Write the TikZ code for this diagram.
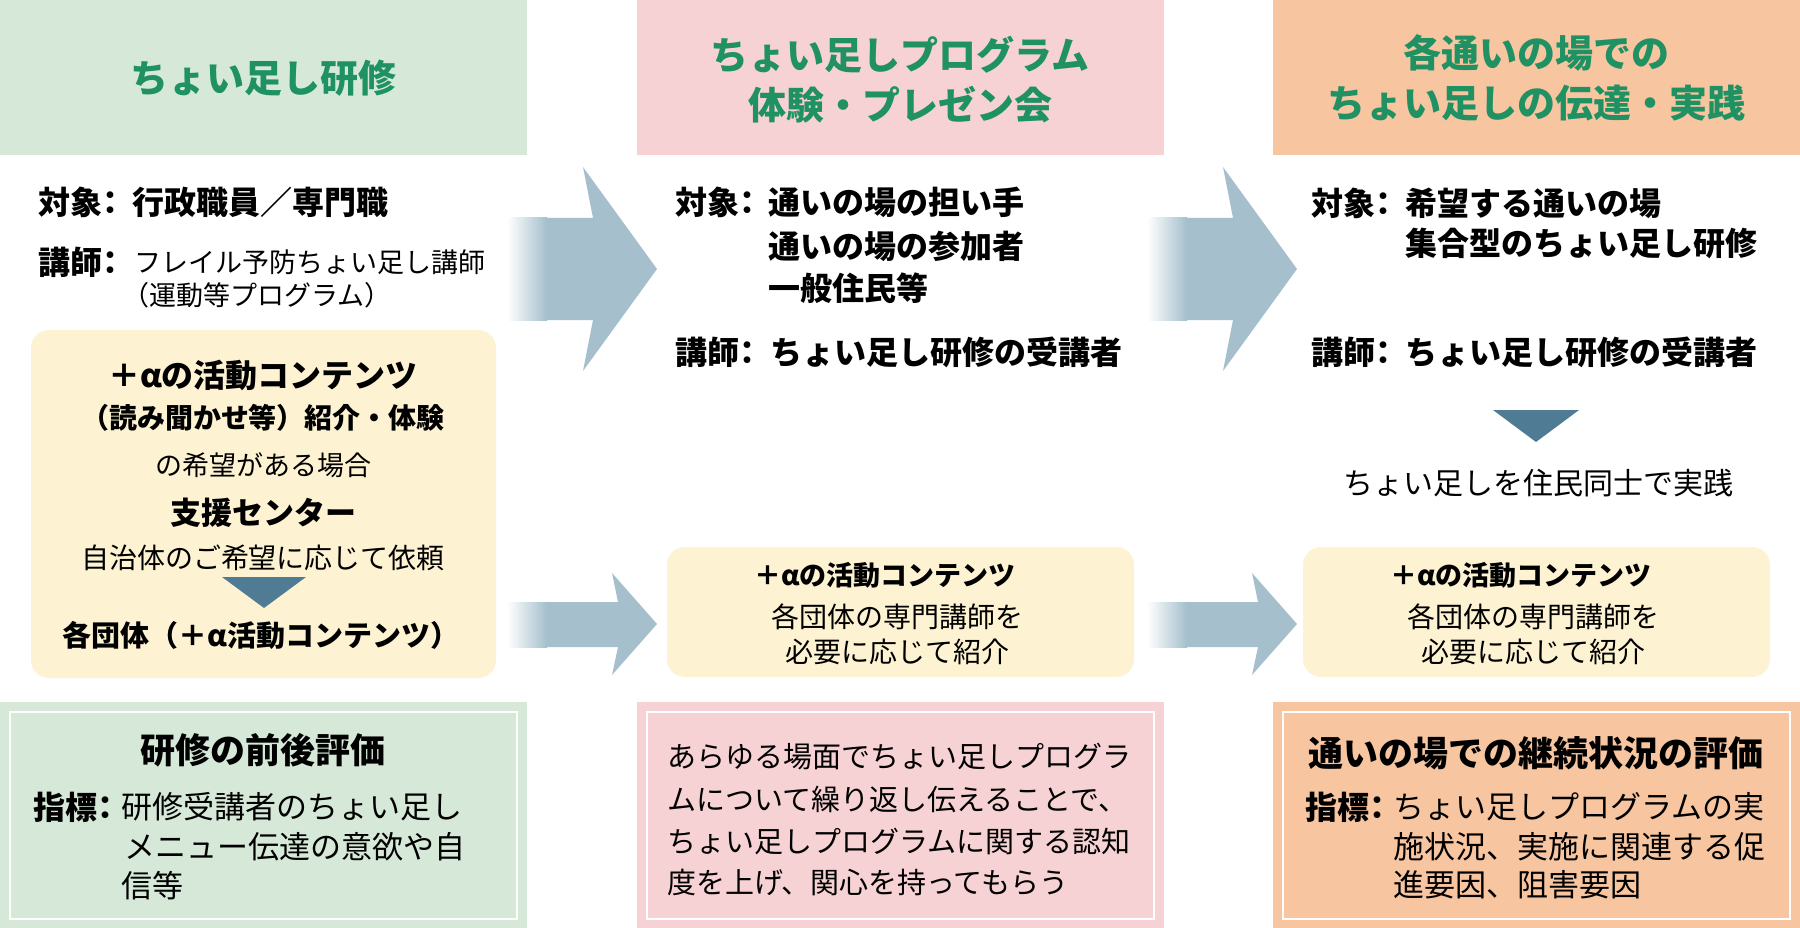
\documentclass[tikz,border=0pt]{standalone}
\usepackage{fontspec}
\setmainfont{Noto Sans CJK JP}
\definecolor{hdgreen}{HTML}{D6E9D9}
\definecolor{hdpink}{HTML}{F7D2D4}
\definecolor{hdorange}{HTML}{F7C5A0}
\definecolor{boxyellow}{HTML}{FDF3D2}
\definecolor{arrowblue}{HTML}{A5BFCC}
\definecolor{tridark}{HTML}{4F7B94}
\definecolor{titlegreen}{HTML}{1F9163}
\newcommand{\hcolon}{{\addfontfeatures{RawFeature=+halt}：}}

\begin{document}
\begin{tikzpicture}[x=1pt, y=-1pt,
  every node/.style={inner sep=0pt},
  ttl/.style={font=\fontsize{38}{50}\selectfont\bfseries, text=titlegreen, align=center},
  lbl/.style={font=\fontsize{32}{40}\selectfont\bfseries, anchor=west},
  sml/.style={font=\fontsize{27}{33}\selectfont, anchor=west},
  yelhead/.style={font=\fontsize{27}{33}\selectfont\bfseries},
  yeltxt/.style={font=\fontsize{28}{33}\selectfont},
  evhead/.style={font=\fontsize{35}{42}\selectfont\bfseries},
  evtxt/.style={font=\fontsize{31}{40}\selectfont, anchor=west},
  frame/.style={draw=white, line width=2pt},
  yel/.style={fill=boxyellow, rounded corners=18pt}]
  \useasboundingbox (0,0) rectangle (1800,928);
  \fill[white] (0,0) rectangle (1800,928);

  % headers and evaluation boxes
  \foreach \x/\c in {0/hdgreen, 637/hdpink, 1273/hdorange} {
    \fill[\c] (\x,0) rectangle (\x+527,155);
    \fill[\c] (\x,702) rectangle (\x+527,928);
    \draw[frame] (\x+10,712) rectangle (\x+517,919);
  }
  \node[ttl] (h1) at (263,78) {ちょい足し研修};
  \node[ttl] (h2) at (900,80) {ちょい足しプログラム\\体験・プレゼン会};
  \node[ttl] (h3) at (1536,78) {各通いの場での\\ちょい足しの伝達・実践};

  % arrows between columns
  \foreach \dx in {0,640} {
    \fill[arrowblue] (507+\dx,218) -- (593+\dx,218) -- (583+\dx,167) -- (657+\dx,269)
      -- (583+\dx,371) -- (593+\dx,320) -- (507+\dx,320) -- cycle;
    \shade[left color=white, right color=arrowblue] (507+\dx,218) rectangle (547+\dx,320);
    \fill[arrowblue] (507+\dx,602) -- (618+\dx,602) -- (612+\dx,573) -- (657+\dx,624)
      -- (612+\dx,675) -- (618+\dx,647) -- (507+\dx,647) -- cycle;
    \shade[left color=white, right color=arrowblue] (507+\dx,602) rectangle (547+\dx,647);
  }

  % column 1
  \node[lbl] (c1obj) at (38,202) {対象\hcolon};
  \node[lbl] (c1objA) at (132,202) {行政職員／専門職};
  \node[lbl] (c1lec) at (38,262) {講師\hcolon};
  \node[sml] (c1lecA) at (134,262) {フレイル予防ちょい足し講師};
  \node[sml] (c1lecB) at (122,295) {（運動等プログラム）};

  \fill[yel] (31,330) rectangle (496,678);
  \node[font=\fontsize{32}{40}\selectfont\bfseries] (y1a) at (263,375) {＋αの活動コンテンツ};
  \node[font=\fontsize{28}{33}\selectfont\bfseries] (y1b) at (263,418) {（読み聞かせ等）紹介・体験};
  \node[font=\fontsize{27}{33}\selectfont] (y1c) at (263,465) {の希望がある場合};
  \node[font=\fontsize{31}{38}\selectfont\bfseries] (y1d) at (263,513) {支援センター};
  \node[yeltxt] (y1e) at (263,558) {自治体のご希望に応じて依頼};
  \fill[tridark] (222,577) -- (306,577) -- (264,608) -- cycle;
  \node[font=\fontsize{29}{35}\selectfont\bfseries] (y1f) at (261,635) {各団体（＋α活動コンテンツ）};

  \node[evhead] (e1) at (263,750) {研修の前後評価};
  \node[lbl] (e1lbl) at (33,807) {指標\hcolon};
  \node[evtxt] (e1a) at (121,807) {研修受講者のちょい足し};
  \node[evtxt] (e1b) at (124,847) {メニュー伝達の意欲や自};
  \node[evtxt] (e1c) at (121,886) {信等};

  % column 2
  \node[lbl] (c2obj) at (675,202) {対象\hcolon};
  \node[lbl] (c2objA) at (768,202) {通いの場の担い手};
  \node[lbl] (c2objB) at (768,246) {通いの場の参加者};
  \node[lbl] (c2objC) at (768,288) {一般住民等};
  \node[lbl] (c2lec) at (675,352) {講師\hcolon};
  \node[lbl] (c2lecA) at (770,352) {ちょい足し研修の受講者};

  \foreach \x/\n in {667/2, 1303/3} {
    \fill[yel] (\x,547) rectangle (\x+467,677);
    \node[yelhead] (y\n a) at (\x+218,575) {＋αの活動コンテンツ};
    \node[yeltxt] (y\n b) at (\x+230,617) {各団体の専門講師を};
    \node[yeltxt] (y\n c) at (\x+230,652) {必要に応じて紹介};
  }

  \foreach \t [count=\i] in {あらゆる場面でちょい足しプログラ,
      ムについて繰り返し伝えることで、,
      ちょい足しプログラムに関する認知,
      度を上げ、関心を持ってもらう}
    \node[evtxt, font=\fontsize{29}{35}\selectfont] (e2\i) at (667,715+42*\i) {\t};

  % column 3
  \node[lbl] (c3obj) at (1311,203) {対象\hcolon};
  \node[lbl] (c3objA) at (1405,203) {希望する通いの場};
  \node[lbl] (c3objB) at (1405,243) {集合型のちょい足し研修};
  \node[lbl] (c3lec) at (1311,352) {講師\hcolon};
  \node[lbl] (c3lecA) at (1405,352) {ちょい足し研修の受講者};
  \fill[tridark] (1493,410) -- (1579,410) -- (1536,442) -- cycle;
  \node[font=\fontsize{30}{36}\selectfont] (c3do) at (1538,483) {ちょい足しを住民同士で実践};

  \node[evhead] (e3) at (1536,753) {通いの場での継続状況の評価};
  \node[lbl] (e3lbl) at (1305,807) {指標\hcolon};
  \node[evtxt] (e3a) at (1393,807) {ちょい足しプログラムの実};
  \node[evtxt] (e3b) at (1393,847) {施状況、実施に関連する促};
  \node[evtxt] (e3c) at (1393,885) {進要因、阻害要因};
\end{tikzpicture}
\end{document}
